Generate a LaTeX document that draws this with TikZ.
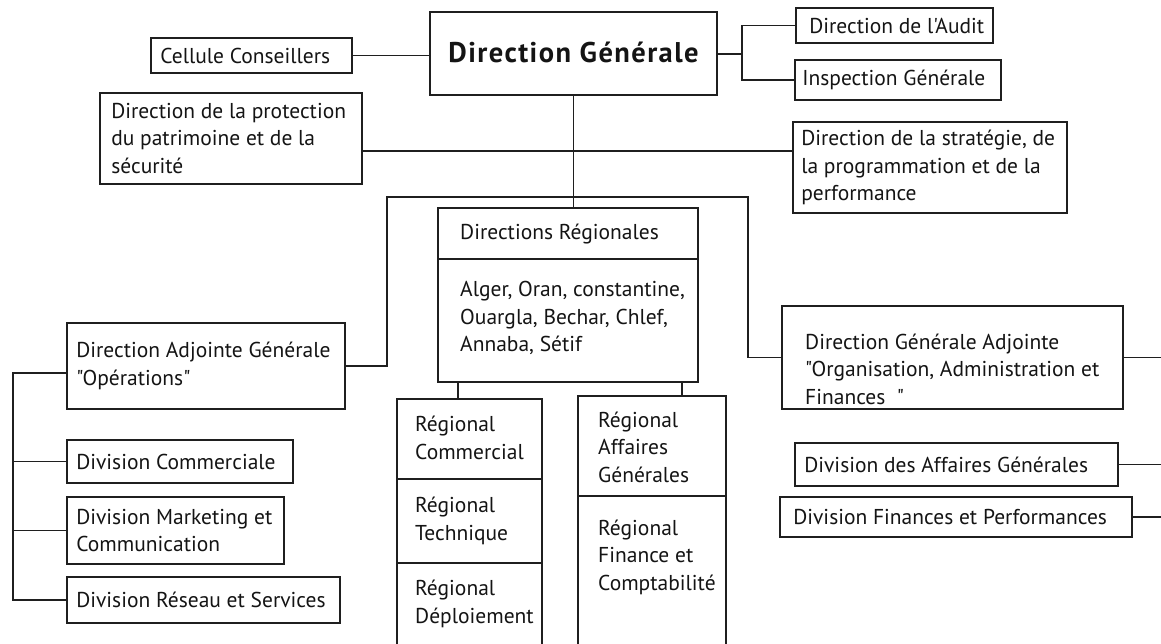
\documentclass[tikz,border=0pt]{standalone}
\usepackage{fontspec}
\usetikzlibrary{fit}
\newfontfamily\orgfont{PT Sans}
\newfontfamily\orgfontls{PT Sans}[LetterSpace=5]
\begin{document}
\begin{tikzpicture}[x=1pt,y=-1pt,
  box/.style={draw=black!88, line width=1.8pt, inner sep=0pt},
  txt/.style={font=\orgfont\fontsize{21.5}{27.5}\selectfont, text=black!92, align=left, inner sep=0pt, anchor=west},
  conn/.style={draw=black!88, line width=1.8pt}]
\useasboundingbox (0,0) rectangle (1161,644);
\clip (0,0) rectangle (1161,644);
% boxes
\node[box, fit={(151,38) (352,73)}] (cel) {};
\node[box, fit={(430,12) (717,95)}] (dg) {};
\node[box, fit={(796,8) (993,43)}] (aud) {};
\node[box, fit={(795,60) (1001,100)}] (insp) {};
\node[box, fit={(100,93) (362,184)}] (prot) {};
\node[box, fit={(793,122) (1067,213)}] (strat) {};
\node[box, fit={(438,208) (698,382)}] (dr) {};
\node[box, fit={(67,323) (345,409)}] (dag) {};
\node[box, fit={(782,306) (1123,409)}] (dga) {};
\node[box, fit={(67,440) (293,483)}] (dc) {};
\node[box, fit={(67,497) (284,564)}] (dm) {};
\node[box, fit={(67,577) (340,623)}] (dres) {};
\node[box, fit={(397,399) (542,479)}] (rc) {};
\node[box, fit={(397,479) (542,563)}] (rt) {};
\node[box, fit={(397,563) (542,670)}] (rd) {};
\node[box, fit={(578,396) (726,496)}] (rag) {};
\node[box, fit={(578,496) (726,670)}] (rfc) {};
\node[box, fit={(795,443) (1118,486)}] (dag2) {};
\node[box, fit={(780,497) (1132,537)}] (dfp) {};
% divider in Directions Regionales
\coordinate (drdiv) at (0,259);
\draw[conn] (dr.west |- drdiv) -- (dr.east |- drdiv);
% texts
\node[txt] (cel-t) at ([xshift=10pt]cel.west) {Cellule Conseillers};
\node[font=\orgfontls\bfseries\fontsize{28.5}{31}\selectfont, text=black!92, inner sep=0pt] (dg-t) at ([yshift=1pt]dg.center) {Direction Générale};
\node[txt] (aud-t) at ([xshift=14pt]aud.west) {Direction de l'Audit};
\node[txt] (insp-t) at ([xshift=8pt]insp.west) {Inspection Générale};
\node[txt] (prot-t) at ([xshift=12pt]prot.west) {Direction de la protection\\du patrimoine et de la\\sécurité};
\node[txt] (strat-t) at ([xshift=9pt]strat.west) {Direction de la stratégie, de\\la programmation et de la\\performance};
\node[txt] (dr-t) at (460,234) {Directions Régionales};
\node[txt] (dr-l) at (460,318) {Alger, Oran, constantine,\\Ouargla, Bechar, Chlef,\\Annaba, Sétif};
\node[txt] (dag-t) at ([xshift=10pt]dag.west) {Direction Adjointe Générale\\"Opérations"};
\node[txt] (dga-t) at (805,369) {Direction Générale Adjointe\\"Organisation, Administration et\\Finances~~"};
\node[txt] (dc-t) at ([xshift=10pt]dc.west) {Division Commerciale};
\node[txt] (dm-t) at ([xshift=10pt]dm.west) {Division Marketing et\\Communication};
\node[txt] (dres-t) at ([xshift=10pt]dres.west) {Division Réseau et Services};
\node[txt] (rc-t) at (415,438) {Régional\\Commercial};
\node[txt] (rt-t) at (415,521) {Régional\\Technique};
\node[txt] (rd-t) at (415,604) {Régional\\Déploiement};
\node[txt] (rag-t) at (598,447) {Régional\\Affaires\\Générales};
\node[txt] (rfc-t) at (598,557) {Régional\\Finance et\\Comptabilité};
\node[txt] (dag2-t) at ([xshift=10pt]dag2.west) {Division des Affaires Générales};
\node[txt] (dfp-t) at ([xshift=14pt]dfp.west) {Division Finances et Performances};
% connectors
\draw[conn] (cel.east) -- (cel.east -| dg.west);
\coordinate (j1) at (742,54);
\draw[conn] (dg.east |- j1) -- (j1);
\draw[conn] (aud.west) -| (j1) |- (insp.west);
\coordinate (bus1) at (573,151);
\draw[conn] (prot.east |- bus1) -- (strat.west |- bus1);
\draw[conn] (dg.south) -- (dg.south |- dr.north);
\coordinate (lb) at (387,197);
\coordinate (rb) at (748,197);
\draw[conn] (dag.east) -| (lb) -- (rb) |- (dga.west);
\coordinate (lv) at (13,373);
\draw[conn] (dag.west |- lv) -- (lv) |- (dres.west);
\draw[conn] (dc.west) -- (dc.west -| lv);
\draw[conn] (dm.west) -- (dm.west -| lv);
\coordinate (redge) at (1161,0);
\draw[conn] (dga.east) -- (dga.east -| redge);
\draw[conn] (dag2.east) -- (dag2.east -| redge);
\draw[conn] (dfp.east) -- (dfp.east -| redge);
\coordinate (d1) at (458,0);
\coordinate (d2) at (682,0);
\draw[conn] (d1 |- dr.south) -- (d1 |- rc.north);
\draw[conn] (d2 |- dr.south) -- (d2 |- rag.north);
\end{tikzpicture}
\end{document}
